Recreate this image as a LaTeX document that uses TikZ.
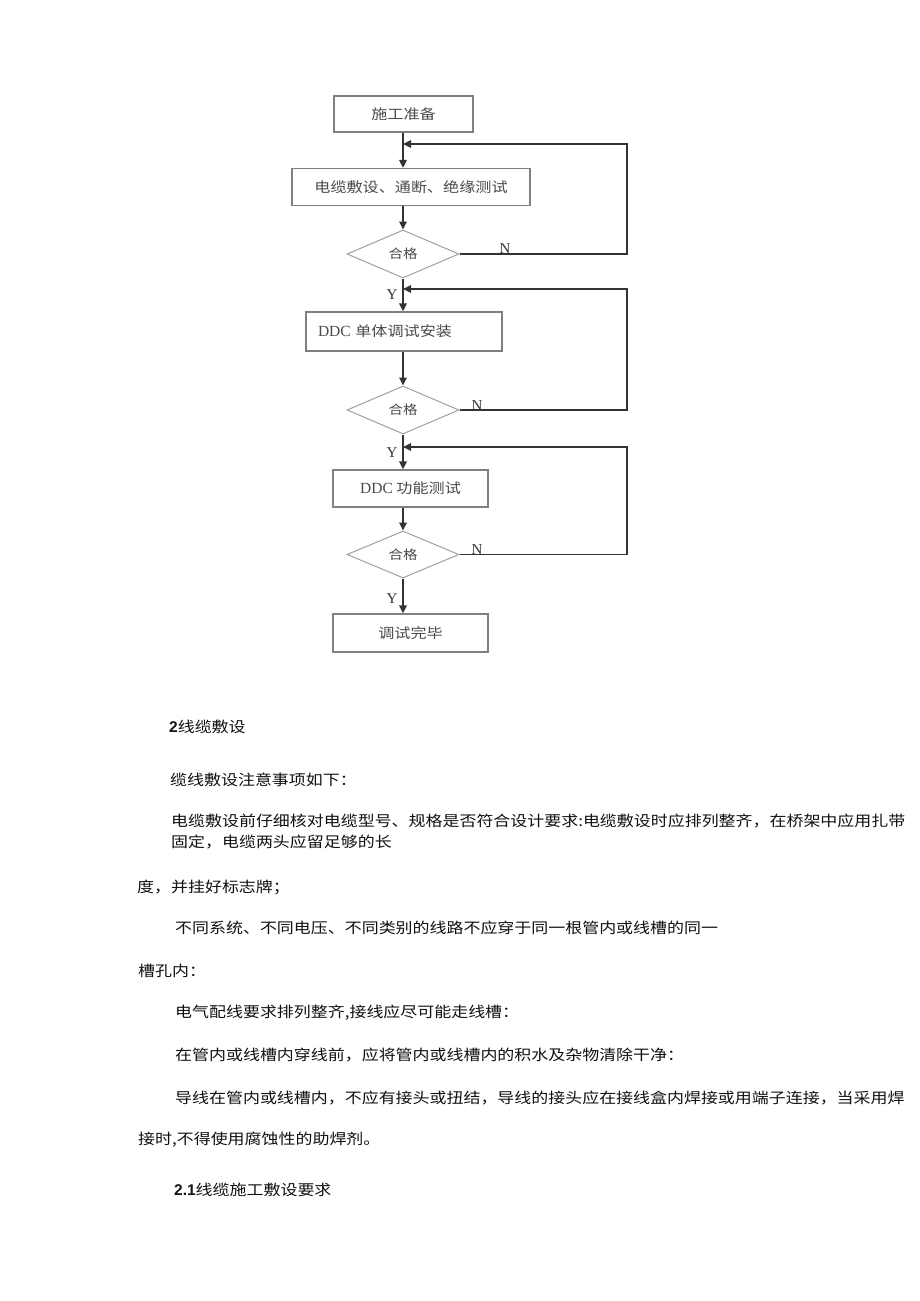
\documentclass[tikz,border=0pt]{standalone}
\usepackage{fontspec}
\setmainfont{Liberation Serif}
\newfontfamily\cjk{Noto Sans CJK SC}[FakeStretch=1.15]
\newfontfamily\hsans{Liberation Sans}
\usetikzlibrary{shapes.geometric,arrows.meta}
\definecolor{boxc}{HTML}{808080}
\definecolor{diac}{HTML}{A0A0A0}
\definecolor{arrc}{HTML}{333333}
\definecolor{txtc}{HTML}{4A4A4A}
\definecolor{bodyc}{HTML}{111111}
\newcommand\flowf{\cjk\fontsize{14pt}{15pt}\selectfont}
\newcommand\diaf{\cjk\fontsize{12.6pt}{14pt}\selectfont}
\newcommand\bodyf{\cjk\fontsize{14.75pt}{16pt}\selectfont}
\newcommand\ddcf{\rmfamily\fontsize{15.5pt}{16pt}\selectfont}
\newcommand\ynf{\rmfamily\fontsize{15pt}{16pt}\selectfont}
\newcommand\numf{\hsans\bfseries\fontsize{15.5pt}{16pt}\selectfont}
\begin{document}
\begin{tikzpicture}[x=1pt,y=-1pt,
  box/.style={draw=boxc, line width=1.3pt, rectangle, inner sep=0pt, text=txtc, font=\flowf},
  dia/.style={draw=diac, line width=1pt, diamond, inner sep=0pt, minimum width=112pt, minimum height=48pt, font=\diaf, text=txtc},
  arr/.style={draw=arrc, line width=1.7pt, -{Triangle[length=8pt,width=7.5pt]}},
  yn/.style={font=\ynf, text=arrc, inner sep=0pt},
  body/.style={anchor=west, inner sep=0pt, font=\bodyf, text=bodyc}]
\useasboundingbox[fill=white] (0,0) rectangle (920,1301);

% flowchart nodes
\node[box, minimum width=139pt, minimum height=36pt] (n1) at (403.5,114) {施工准备};
\node[box, minimum width=238pt, minimum height=37pt] (n2) at (411,187) {电缆敷设、通断、绝缘测试};
\node[dia] (d1) at (403,254) {合格};
\node[box, minimum width=196pt, minimum height=39pt, inner xsep=12pt, text width=172pt, align=left] (n3) at (404,331.5) {{\ddcf DDC} 单体调试安装};
\node[dia] (d2) at (403,410) {合格};
\node[box, minimum width=155pt, minimum height=37pt] (n4) at (410.5,488.5) {{\ddcf DDC} 功能测试};
\node[dia, minimum height=47pt] (d3) at (403,554.5) {合格};
\node[box, minimum width=155pt, minimum height=38pt] (n5) at (410.5,633) {调试完毕};

% junctions on the spine and right-hand corners
\coordinate (j1) at (403,144);
\coordinate (j2) at (403,289);
\coordinate (j3) at (403,447);
\coordinate (r1) at (627,144);
\coordinate (r2) at (627,289);
\coordinate (r3) at (627,447);

% main flow
\draw[arr] (j1 |- n1.south) -- (j1 |- n2.north);
\draw[arr] (d1 |- n2.south) -- (d1.north);
\draw[arr] (d1.south) -- (d1 |- n3.north);
\draw[arr] (d2 |- n3.south) -- (d2.north);
\draw[arr] (d2.south) -- (d2 |- n4.north);
\draw[arr] (d3 |- n4.south) -- (d3.north);
\draw[arr] (d3.south) -- (d3 |- n5.north);

% return loops
\draw[arr] (d1.east) -| (r1) -- (j1);
\draw[arr] (d2.east) -| (r2) -- (j2);
\draw[arr] (d3.east) -| (r3) -- (j3);

% Y / N labels
\node[yn] (n1lab) at (505,249) {N};
\node[yn] (n2lab) at (477,406) {N};
\node[yn] (n3lab) at (477,550) {N};
\node[yn] (y1lab) at (392,295) {Y};
\node[yn] (y2lab) at (392,453) {Y};
\node[yn] (y3lab) at (392,599) {Y};

% body text
\node[body] (t1) at (169,727) {{\numf 2}线缆敷设};
\node[body] (t2) at (170,780) {缆线敷设注意事项如下：};
\node[body] (t3) at (171,821) {电缆敷设前仔细核对电缆型号、规格是否符合设计要求:电缆敷设时应排列整齐，在桥架中应用扎带};
\node[body] (t4) at (171,842) {固定，电缆两头应留足够的长};
\node[body] (t5) at (137,887) {度，并挂好标志牌；};
\node[body] (t6) at (175,928) {不同系统、不同电压、不同类别的线路不应穿于同一根管内或线槽的同一};
\node[body] (t7) at (138,971) {槽孔内：};
\node[body] (t8) at (175,1013) {电气配线要求排列整齐,接线应尽可能走线槽：};
\node[body] (t9) at (175,1055) {在管内或线槽内穿线前，应将管内或线槽内的积水及杂物清除干净：};
\node[body] (t10) at (175,1098) {导线在管内或线槽内，不应有接头或扭结，导线的接头应在接线盒内焊接或用端子连接，当采用焊};
\node[body] (t11) at (138,1140) {接时,不得使用腐蚀性的助焊剂。};
\node[body] (t12) at (174,1190) {{\numf 2.1}线缆施工敷设要求};
\end{tikzpicture}
\end{document}
